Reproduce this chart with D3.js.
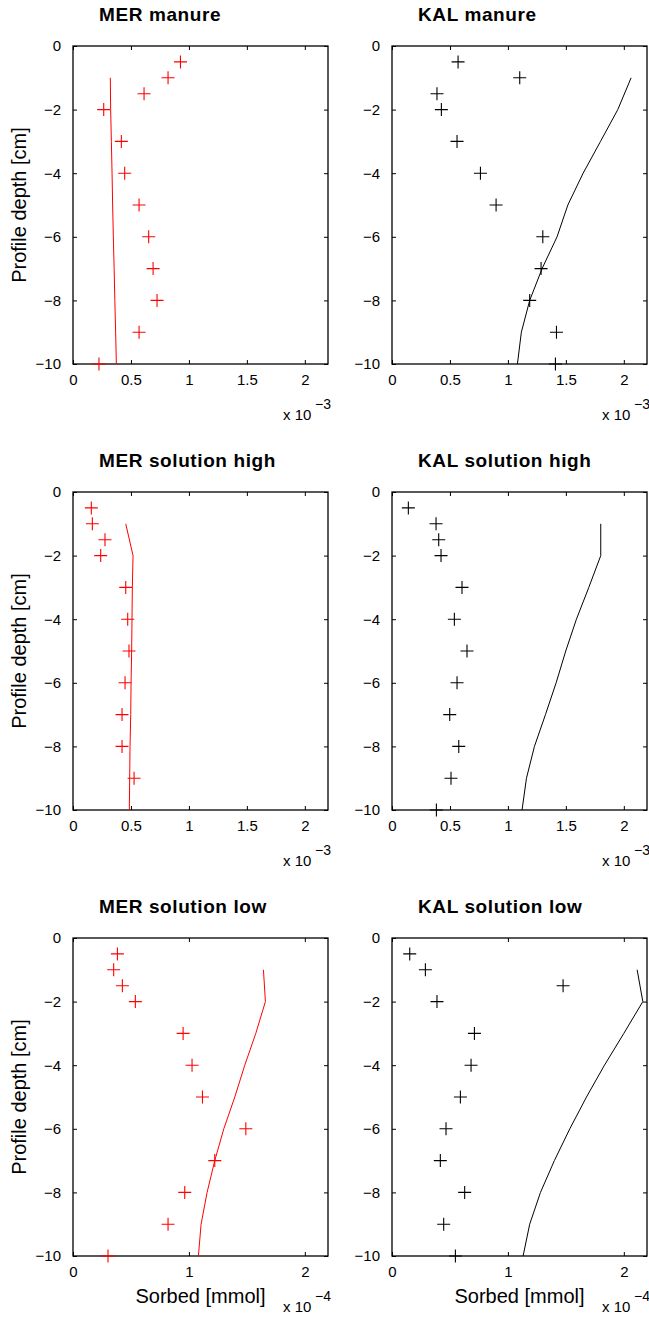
<!DOCTYPE html>
<html>
<head>
<meta charset="utf-8">
<script src="https://cdn.jsdelivr.net/npm/d3@7"></script>
<style>
  html, body { margin: 0; padding: 0; background: #fff; }
  svg { display: block; font-family: "Liberation Sans", Arial, Helvetica, sans-serif; }
</style>
</head>
<body>
<svg id="chart" width="649" height="1317"></svg>
<script>
// Sampling depths [cm]
const depthObs = [-0.5, -1, -1.5, -2, -3, -4, -5, -6, -7, -8, -9, -10];
const depthModel = [-1, -2, -3, -4, -5, -6, -7, -8, -9, -10];

// Panel titles
const titles = ["MER manure", "KAL manure", "MER solution high", "KAL solution high", "MER solution low", "KAL solution low"];

// Sorbed amounts (measured = crosses, modelled = line), scaled by the axis multiplier
const merManureObs   = [0.927, 0.820, 0.613, 0.265, 0.417, 0.446, 0.570, 0.653, 0.691, 0.725, 0.570, 0.224];
const merManureModel = [0.322, 0.325, 0.331, 0.337, 0.342, 0.348, 0.355, 0.361, 0.368, 0.374];
const kalManureObs   = [0.570, 1.102, 0.388, 0.426, 0.561, 0.763, 0.898, 1.301, 1.286, 1.188, 1.419, 1.410];
const kalManureModel = [2.063, 1.948, 1.799, 1.649, 1.517, 1.424, 1.295, 1.188, 1.116, 1.082];

const merHighObs   = [0.158, 0.167, 0.276, 0.239, 0.455, 0.472, 0.483, 0.449, 0.423, 0.423, 0.527, null];
const merHighModel = [0.455, 0.518, 0.512, 0.509, 0.506, 0.501, 0.498, 0.492, 0.489, 0.486];
const kalHighObs   = [0.141, 0.380, 0.403, 0.423, 0.604, 0.538, 0.647, 0.561, 0.498, 0.576, 0.509, 0.383];
const kalHighModel = [1.801, 1.801, 1.698, 1.591, 1.499, 1.416, 1.324, 1.229, 1.160, 1.122];

const merLowObs   = [0.383, 0.351, 0.426, 0.538, 0.950, 1.027, 1.117, 1.491, 1.223, 0.964, 0.820, 0.302];
const merLowModel = [1.643, 1.660, 1.577, 1.482, 1.396, 1.301, 1.223, 1.157, 1.105, 1.082];
const kalLowObs   = [0.153, 0.288, 1.476, 0.388, 0.711, 0.682, 0.590, 0.466, 0.417, 0.627, 0.446, 0.547];
const kalLowModel = [2.115, 2.164, 2.000, 1.833, 1.678, 1.534, 1.401, 1.281, 1.188, 1.131];

// Axis ticks
const xTicksFine = [0, 0.5, 1, 1.5, 2];
const xTicksCoarse = [0, 1, 2];
const yTicks = [0, -2, -4, -6, -8, -10];
const exponents = ["-3", "-3", "-3", "-3", "-4", "-4"];

const panels = [
  { obs: merManureObs, model: merManureModel, color: "#ff0000", xt: xTicksFine },
  { obs: kalManureObs, model: kalManureModel, color: "#000000", xt: xTicksFine },
  { obs: merHighObs,   model: merHighModel,   color: "#ff0000", xt: xTicksFine },
  { obs: kalHighObs,   model: kalHighModel,   color: "#000000", xt: xTicksFine },
  { obs: merLowObs,    model: merLowModel,    color: "#ff0000", xt: xTicksCoarse },
  { obs: kalLowObs,    model: kalLowModel,    color: "#000000", xt: xTicksCoarse }
];

const svg = d3.select("#chart");
const colLeft = [73, 392];
const rowTop = [46, 492, 938];
const W = 255, H = 318;
const tickLen = 4;
const fmt = d3.format("~g");

panels.forEach((p, i) => {
  const col = i % 2, row = Math.floor(i / 2);
  const g = svg.append("g").attr("transform", `translate(${colLeft[col]},${rowTop[row]})`);

  const x = d3.scaleLinear().domain([0, 2.2]).range([0, W]);
  const y = d3.scaleLinear().domain([-10, 0]).range([H, 0]);

  // Inward ticks on all four sides, labels on bottom and left
  const axStyle = sel => {
    sel.select(".domain").remove();
    sel.selectAll(".tick line").attr("stroke", "#000").attr("stroke-width", 1);
    sel.selectAll(".tick text").attr("fill", "#000").style("font-size", "15px").style("font-family", "inherit");
  };
  g.append("g").attr("transform", `translate(0,${H})`)
    .call(d3.axisBottom(x).tickValues(p.xt).tickFormat(fmt).tickSizeInner(-tickLen).tickPadding(10))
    .call(axStyle);
  g.append("g")
    .call(d3.axisTop(x).tickValues(p.xt).tickFormat("").tickSizeInner(-tickLen))
    .call(axStyle);
  g.append("g")
    .call(d3.axisLeft(y).tickValues(yTicks).tickFormat(fmt).tickSizeInner(-tickLen).tickPadding(12))
    .call(axStyle);
  g.append("g").attr("transform", `translate(${W},0)`)
    .call(d3.axisRight(y).tickValues(yTicks).tickFormat("").tickSizeInner(-tickLen))
    .call(axStyle);

  // Axes box
  g.append("rect").attr("x", 0).attr("y", 0).attr("width", W).attr("height", H)
    .attr("fill", "none").attr("stroke", "#000").attr("stroke-width", 1.3);

  // Modelled profile
  const line = d3.line().x(d => x(d[0])).y(d => y(d[1]));
  g.append("path")
    .datum(p.model.map((v, k) => [v, depthModel[k]]))
    .attr("d", line).attr("fill", "none").attr("stroke", p.color).attr("stroke-width", 1);

  // Measured values as plus markers
  const pts = p.obs.map((v, k) => [v, depthObs[k]]).filter(d => d[0] !== null);
  g.selectAll(".pt").data(pts).enter().append("path")
    .attr("class", "pt")
    .attr("transform", d => `translate(${x(d[0])},${y(d[1])})`)
    .attr("d", "M-6.5,0H6.5M0,-6.5V6.5")
    .attr("stroke", p.color).attr("stroke-width", 1.1).attr("fill", "none");

  // Title
  g.append("text").attr("x", 26).attr("y", -25)
    .style("font-size", "19px").style("font-weight", "bold").style("letter-spacing", "0.6px")
    .text(titles[i]);

  // Axis multiplier
  g.append("text").attr("x", 210).attr("y", H + 56).style("font-size", "15px").text("x 10");
  g.append("text").attr("x", 242).attr("y", H + 45).style("font-size", "14px")
    .text(exponents[i].replace("-", "\u2212"));

  // Axis labels
  if (col === 0) {
    g.append("text")
      .attr("transform", `translate(-47,${H / 2}) rotate(-90)`)
      .attr("text-anchor", "middle").style("font-size", "20px")
      .text("Profile depth [cm]");
  }
  if (row === 2) {
    g.append("text").attr("x", W / 2).attr("y", H + 47)
      .attr("text-anchor", "middle").style("font-size", "20px")
      .text("Sorbed [mmol]");
  }
});
</script>
</body>
</html>
